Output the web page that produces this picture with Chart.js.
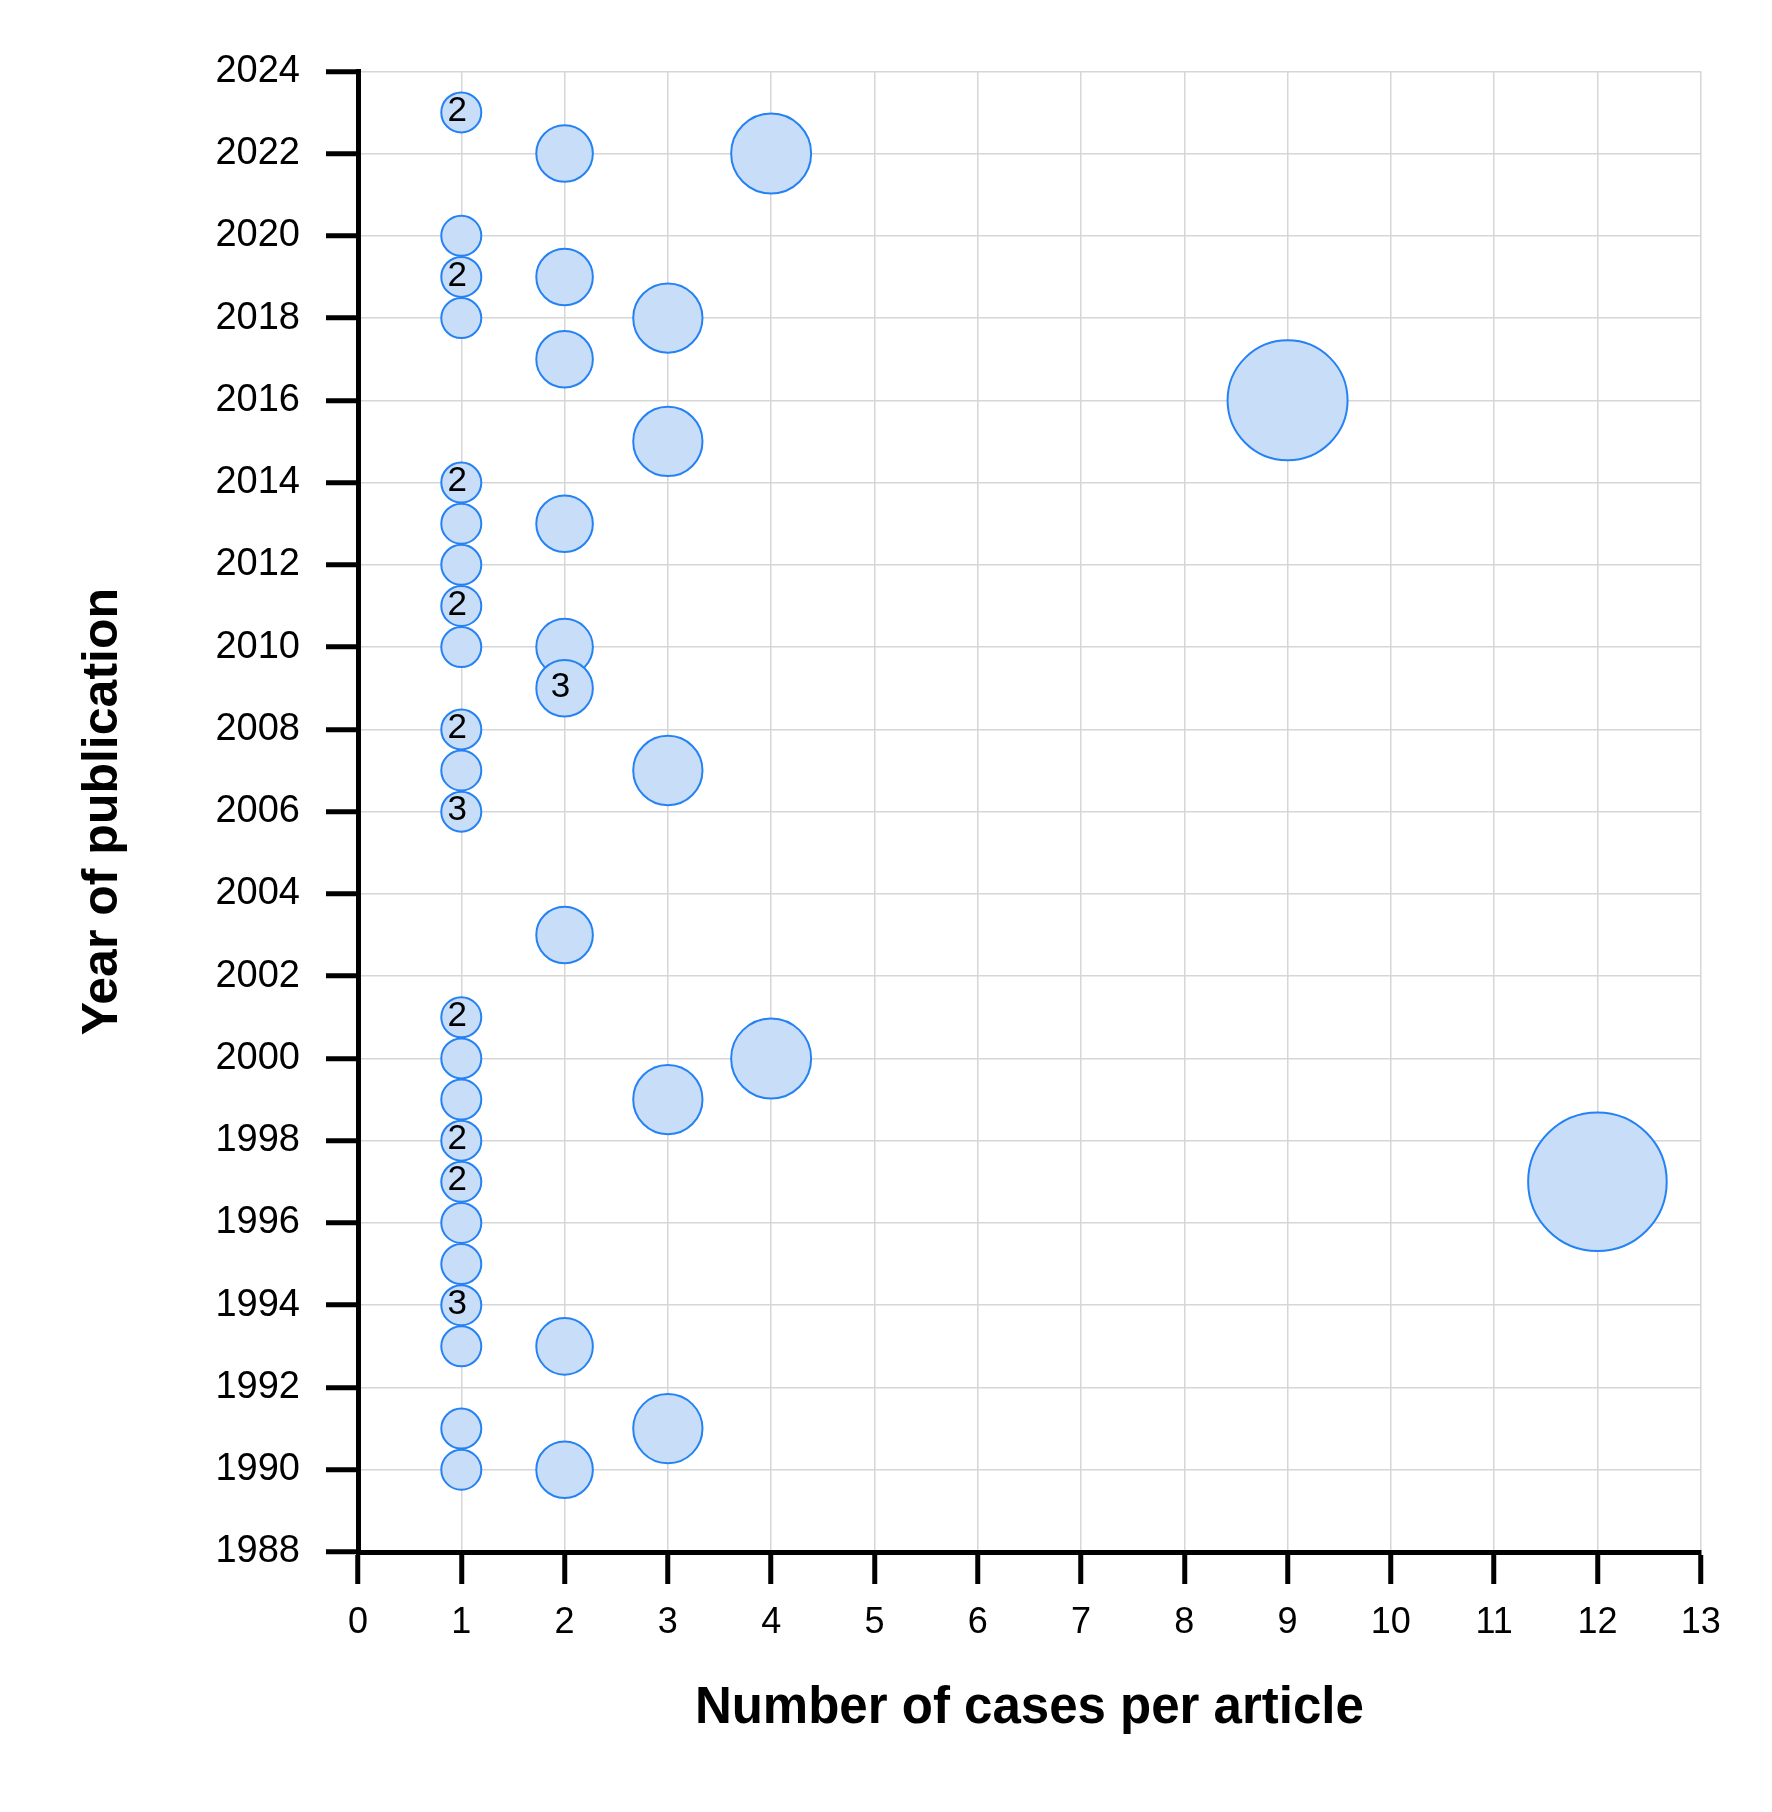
<!DOCTYPE html>
<html>
<head>
<meta charset="utf-8">
<script src="https://cdn.jsdelivr.net/npm/chart.js@4"></script>
<style>
  html, body { margin: 0; padding: 0; background: #fff; }
  canvas { display: block; }
</style>
</head>
<body>
<canvas id="bubbleChart" width="1772" height="1812"></canvas>
<script>
// one entry per bubble: cases per article, year, number of articles at that spot
const casesPerArticle = [
    1, 1, 1, 1, 1, 1, 1, 1, 1, 1, 1, 1, 1, 1, 1, 1, 1, 1, 1, 1, 1, 1, 1,
    2, 2, 2, 2, 2, 2, 2, 2, 2,
    3, 3, 3, 3, 3,
    4, 4,
    9,
    12
];
const pubYears = [
    2023, 2020, 2019, 2018, 2014, 2013, 2012, 2011, 2010, 2008, 2007, 2006,
    2001, 2000, 1999, 1998, 1997, 1996, 1995, 1994, 1993, 1991, 1990,
    2022, 2019, 2017, 2013, 2010, 2009, 2003, 1993, 1990,
    2018, 2015, 2007, 1999, 1991,
    2022, 2000,
    2016,
    1997
];
const articleCounts = [
    2, 1, 2, 1, 2, 1, 1, 2, 1, 2, 1, 3, 2, 1, 1, 2, 2, 1, 1, 3, 1, 1, 1,
    1, 1, 1, 1, 1, 3, 1, 1, 1,
    1, 1, 1, 1, 1,
    1, 1,
    1,
    1
];

const FONT = "'Liberation Sans', Arial, sans-serif";

const points = casesPerArticle.map((c, i) => ({
    x: c,
    y: pubYears[i],
    r: 20 * Math.sqrt(c) // area proportional to cases
}));

// write the article count inside the bubble when more than one
const countLabels = {
    id: 'countLabels',
    afterDatasetsDraw(chart) {
        const ctx = chart.ctx;
        const meta = chart.getDatasetMeta(0);
        ctx.save();
        ctx.font = `35px ${FONT}`;
        ctx.fillStyle = '#000';
        ctx.textAlign = 'center';
        ctx.textBaseline = 'middle';
        meta.data.forEach((el, i) => {
            if (articleCounts[i] > 1) {
                ctx.fillText(String(articleCounts[i]), el.x - 4, el.y - 1);
            }
        });
        ctx.restore();
    }
};

new Chart(document.getElementById('bubbleChart').getContext('2d'), {
    type: 'bubble',
    data: {
        datasets: [{
            data: points,
            backgroundColor: '#c8ddf7',
            borderColor: '#2582f4',
            borderWidth: 2,
            hoverRadius: 0
        }]
    },
    options: {
        responsive: false,
        animation: false,
        layout: { padding: { top: 70, right: 57, bottom: 78, left: 78 } },
        plugins: {
            legend: { display: false },
            tooltip: { enabled: false }
        },
        scales: {
            x: {
                type: 'linear',
                min: 0,
                max: 13,
                afterFit(scale) { scale.height = 182; },
                ticks: {
                    stepSize: 1,
                    color: '#000',
                    padding: 17,
                    font: { family: FONT, size: 36 },
                    callback: v => String(v)
                },
                grid: {
                    color: '#d6d6d6',
                    lineWidth: 1.5,
                    tickLength: 32,
                    tickWidth: 5,
                    tickColor: '#000'
                },
                border: { color: '#000', width: 5 },
                title: {
                    display: true,
                    text: 'Number of cases per article',
                    color: '#000',
                    padding: 0,
                    font: { family: FONT, size: 51, weight: 'bold', lineHeight: 1 }
                }
            },
            y: {
                type: 'linear',
                min: 1988,
                max: 2024,
                afterFit(scale) { scale.width = 280; },
                ticks: {
                    stepSize: 2,
                    color: '#000',
                    padding: 26,
                    font: { family: FONT, size: 38 },
                    callback: v => String(v)
                },
                grid: {
                    color: '#d6d6d6',
                    lineWidth: 1.5,
                    tickLength: 32,
                    tickWidth: 5,
                    tickColor: '#000'
                },
                border: { color: '#000', width: 5 },
                title: {
                    display: true,
                    text: 'Year of publication',
                    color: '#000',
                    padding: 0,
                    font: { family: FONT, size: 50, weight: 'bold', lineHeight: 1 }
                }
            }
        }
    },
    plugins: [countLabels]
});
</script>
</body>
</html>
